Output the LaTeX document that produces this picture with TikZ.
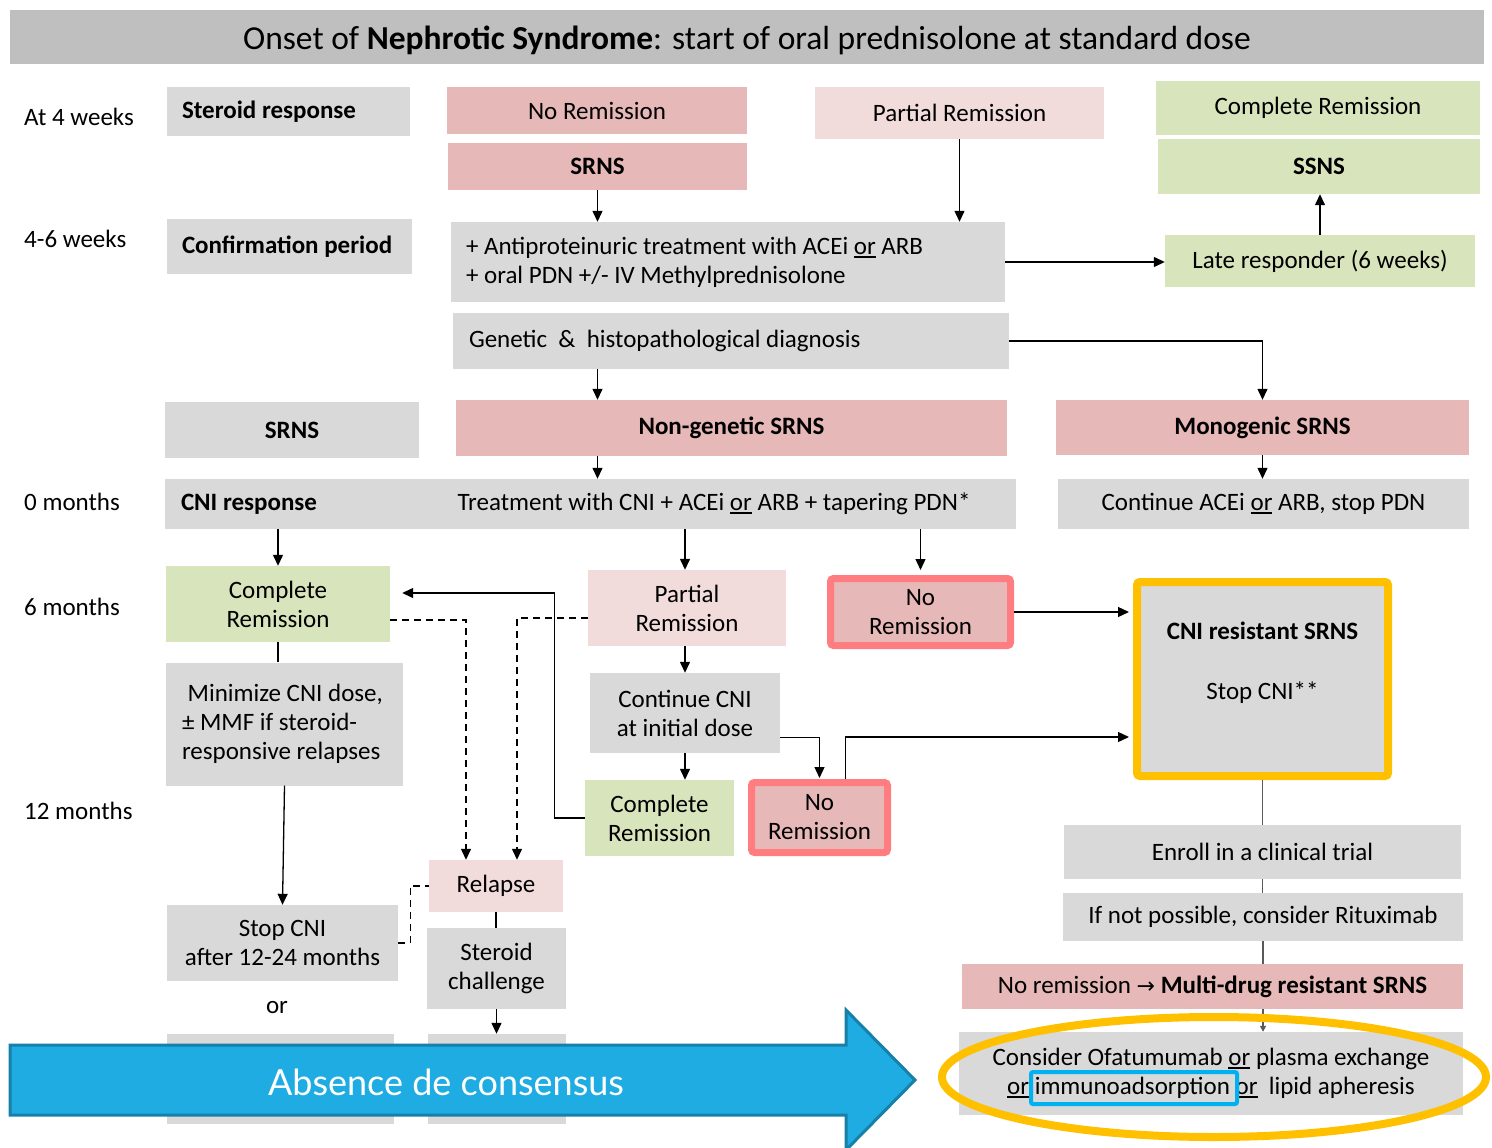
\documentclass[tikz,border=0pt]{standalone}
\usepackage{fontspec}
\setmainfont{Carlito}
\newfontfamily\consfont{Lato}
\newfontfamily\arrowfont{DejaVu Sans}
\definecolor{BoxGray}{HTML}{D9D9D9}
\definecolor{TitleGray}{HTML}{BFBFBF}
\definecolor{RosePink}{HTML}{E6B8B7}
\definecolor{PalePink}{HTML}{F2DCDB}
\definecolor{SageGreen}{HTML}{D8E4BC}
\definecolor{AlertRed}{HTML}{FF7C80}
\definecolor{AmberRing}{HTML}{FFC000}
\definecolor{SkyArrow}{HTML}{1EACE2}
\definecolor{SkyEdge}{HTML}{1780A8}
\definecolor{CyanBox}{HTML}{00B0F0}
\usetikzlibrary{arrows.meta,calc,shapes.geometric}
\newcommand{\uor}{\setbox0\hbox{or}\rlap{\rule[-3.5pt]{\wd0}{2pt}}\box0}

\begin{document}
\begin{tikzpicture}[x=1pt,y=-1pt,
    every node/.style={font=\fontsize{25}{29}\selectfont,inner sep=0pt},
    sz/.style 2 args={minimum width=#1,minimum height=#2},
    gbox/.style={fill=BoxGray,align=flush center},
    pbox/.style={fill=RosePink,align=flush center},
    lbox/.style={fill=PalePink,align=flush center},
    cbox/.style={fill=SageGreen,align=flush center},
    nrbox/.style={fill=RosePink,draw=AlertRed,line width=7pt,
                  rounded corners=3pt,align=flush center},
    lft/.style={align=flush left,text width=#1,inner xsep=15pt},
    tick/.style={anchor=west},
    arr/.style={-{Triangle[length=11pt,width=10pt]},line width=1.3pt},
    link/.style={line width=1.3pt},
    dline/.style={line width=1.2pt,dash pattern=on 7pt off 5pt},
    glink/.style={line width=1.5pt,draw=black!65}]

  \useasboundingbox (0,0) rectangle (1492,1148);
  \clip (0,0) rectangle (1492,1148);

  % title bar
  \node[fill=TitleGray,sz={1474}{54},text height=28pt,text depth=2pt,
        font=\fontsize{33.5}{38}\selectfont] (title) at (747,37)
       {Onset of \textbf{Nephrotic Syndrome}: start of oral prednisolone at standard dose};

  % time axis
  \node[tick] (t4w)  at (24,117) {At 4 weeks};
  \node[tick] (t46w) at (24,239) {4-6 weeks};
  \node[tick] (t0m)  at (24,502) {0 months};
  \node[tick] (t6m)  at (24,607) {6 months};
  \node[tick] (t12m) at (24,811) {12 months};

  % 4 weeks
  \node[gbox,lft=213,sz={243}{49}] (steroid) at (288.5,111.5) {\textbf{Steroid response}};
  \node[pbox,sz={300}{47}] (noremA) at (597,110.5) {No Remission};
  \node[pbox,sz={299}{47}] (srnsA) at (597.5,166.5) {\textbf{SRNS}};
  \node[lbox,sz={289}{52}] (partA) at (959.5,113) {Partial Remission};
  \node[cbox,sz={324}{54}] (compA) at (1318,108) {Complete Remission};
  \node[cbox,sz={322}{55}] (ssns) at (1319,166.5) {\textbf{SSNS}};

  % 4-6 weeks
  \node[gbox,lft=215,sz={245}{55}] (confirm) at (289.5,246.5) {\textbf{Confirmation period}};
  \node[gbox,lft=524,sz={554}{80}] (antip) at (728,262)
       {+ Antiproteinuric treatment with ACEi \uor{} ARB\\+ oral PDN +/- IV Methylprednisolone};
  \node[cbox,sz={310}{52}] (late) at (1320,261) {Late responder (6 weeks)};
  \node[gbox,lft=524,sz={556}{56}] (genetic) at (731,341) {Genetic \ \& \ histopathological diagnosis};
  \node[gbox,sz={254}{56}] (srnsB) at (292,430) {\textbf{SRNS}};
  \node[pbox,sz={551}{56}] (nongen) at (731.5,428) {\textbf{Non-genetic SRNS}};
  \node[pbox,sz={413}{55}] (monogen) at (1262.5,427.5) {\textbf{Monogenic SRNS}};

  % 0 months
  \node[gbox,lft=819,sz={851}{50}] (cniresp) at (590.5,504) {\textbf{CNI response}};
  \node (treat) at (714,504) {Treatment with CNI + ACEi \uor{} ARB + tapering PDN*};
  \node[gbox,sz={411}{50}] (contace) at (1263.5,504) {Continue ACEi \uor{} ARB, stop PDN};

  % 6 months
  \node[cbox,sz={224}{76}] (cr6) at (278,604) {Complete\\Remission};
  \node[lbox,sz={198}{76}] (pr6) at (687,608) {Partial\\Remission};
  \node[nrbox,sz={180}{67}] (nr6) at (920.5,612) {No\\Remission};
  \node[gbox,draw=AmberRing,line width=8pt,rounded corners=3pt,sz={251}{194}] (cnires) at (1262.5,679)
       {\textbf{CNI resistant SRNS}\\[31pt]Stop CNI**\\[8pt]\mbox{}};
  \node[gbox,lft=205,inner xsep=16pt,sz={237}{123}] (minim) at (284.5,724)
       {\ Minimize CNI dose,\\± MMF if steroid-\\responsive relapses};
  \node[gbox,sz={190}{80}] (contcni) at (685,713) {Continue CNI\\at initial dose};

  % 12 months
  \node[cbox,sz={149}{76}] (cr12) at (659.5,818) {Complete\\Remission};
  \node[nrbox,sz={136}{70}] (nr12) at (819.5,817.5) {No\\Remission};
  \node[lbox,sz={134}{52}] (relapse) at (496,886) {Relapse};
  \node[gbox,sz={231}{76}] (stopcni) at (282.5,943) {Stop CNI\\after 12-24 months};
  \node[gbox,sz={139}{81}] (steroidch) at (496.5,968.5) {Steroid\\challenge};
  \node (orlbl) at (277,1008) {or};
  \node[gbox,sz={227}{90}] (hidA) at (280.5,1079) {};
  \node[gbox,sz={138}{90}] (hidB) at (497,1079) {};

  % right column
  \node[gbox,sz={397}{54}] (enroll) at (1262.5,852) {Enroll in a clinical trial};
  \node[gbox,sz={400}{48}] (rituxi) at (1263,917) {If not possible, consider Rituximab};
  \node[pbox,sz={501}{45}] (mdr) at (1212.5,986.5)
       {No remission {\arrowfont\fontsize{22}{29}\selectfont →} \textbf{Multi-drug resistant SRNS}};
  \node[gbox,sz={504}{83}] (ofatu) at (1211,1073.5)
       {Consider Ofatumumab \uor{} plasma exchange\\\uor{} immunoadsorption \uor{}\ \ lipid apheresis};

  % connectors
  \foreach \a/\b in {srnsA.south/antip.north,partA.south/antip.north,
                     late.north/ssns.south,monogen.south/contace.north,
                     contcni.south/cr12.north,steroidch.south/hidB.north}{
    \draw[arr] (\a) -- (\a |- \b);
  }
  \draw[arr] (antip.east) -- (antip.east -| late.west);
  \draw[arr] (genetic.east) -| (monogen.north);
  \draw[arr] (srnsA.south |- genetic.south) -- (srnsA.south |- nongen.north);
  \draw[arr] (srnsA.south |- nongen.south) -- (srnsA.south |- cniresp.north);
  \draw[arr] (cr6.north |- cniresp.south) -- (cr6.north);
  \draw[arr] (contcni.north |- cniresp.south) -- (contcni.north |- pr6.north);
  \draw[arr,shorten >=5pt] (nr6.north |- cniresp.south) -- (nr6.north);
  \draw[arr,shorten >=4pt] (nr6.east) -- (nr6.east -| cnires.west);
  \draw[link] (cr6.south) -- (cr6.south |- minim.north);
  \draw[arr] (minim.south) -- (stopcni.north);
  \draw[arr] (contcni.north |- pr6.south) -- (contcni.north);
  \draw[arr,shorten >=1pt] ($(contcni.south east)+(0,-16)$) -| (nr12.north);
  \draw[arr,shorten >=4pt] ($(nr12.north)+(26,0)$) |- ($(cnires.west)+(0,58)$);
  \draw[arr] (cr12.west) -- ++(-30,0) |- ($(cr6.east)+(12,-11)$);
  \draw[dline,arr] ($(cr6.east)+(0,16)$) -| ($(relapse.north)+(-30,0)$);
  \draw[dline,arr] ($(pr6.west)+(0,10)$) -| ($(relapse.north)+(21,0)$);
  \draw[dline] (stopcni.east) -- ++(12,0) |- (relapse.west);
  \draw[link] (relapse.south) -- (relapse.south |- steroidch.north);
  \foreach \a/\b in {cnires.south/enroll.north,enroll.south/rituxi.north,
                     rituxi.south/mdr.north}{
    \draw[glink] (\a) -- (\a |- \b);
  }
  \draw[glink,-{Triangle[length=6pt,width=6pt]}] (rituxi.south |- mdr.south) -- (rituxi.south |- ofatu.north);

  % overlays
  \draw[fill=SkyArrow,draw=SkyEdge,line width=3pt]
    (10,1045) -- (846,1045) -- (846,1010) -- (915,1080) -- (846,1150) -- (846,1115) -- (10,1115) -- cycle;
  \node[text=white,font=\consfont\fontsize{36}{40}\selectfont] (cons) at (446,1082) {Absence de consensus};
  \node[ellipse,draw=AmberRing,line width=8pt,sz={544}{120}] (oval) at (1214,1077) {};
  \node[draw=CyanBox,line width=4pt,rounded corners=2pt,sz={206}{32}] (immbox) at (1134,1088) {};
\end{tikzpicture}
\end{document}
